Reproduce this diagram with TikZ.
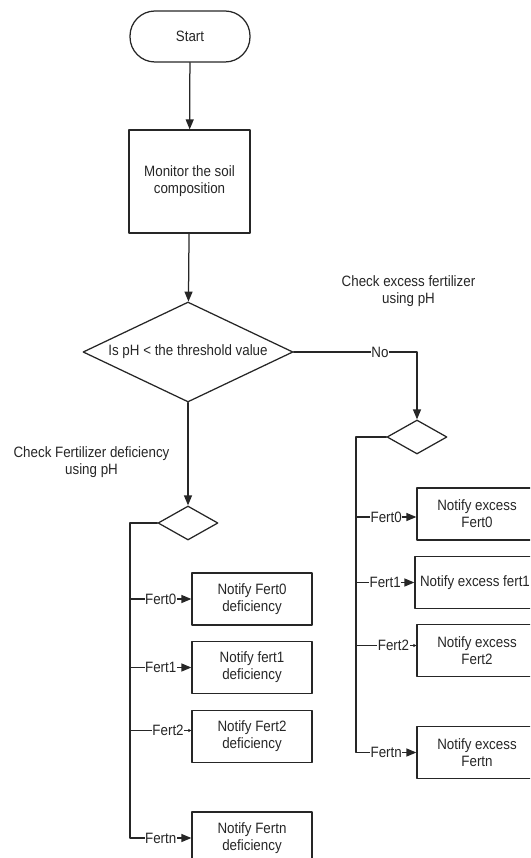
\documentclass[tikz,border=0pt]{standalone}
\usepackage{fontspec}
\setmainfont[FakeStretch=0.89]{Liberation Sans}
\usetikzlibrary{arrows.meta,shapes.geometric}

\begin{document}
\begin{tikzpicture}[line cap=round,line join=round,>={Triangle[length=10pt,width=8pt]},x=1pt,y=-1pt,
  line width=1.25pt, color=black!85, font=\fontsize{15}{17}\selectfont,
  term/.style={draw, rectangle, rounded corners=25pt, minimum width=120, minimum height=51},
  box/.style={draw, rectangle, minimum width=120, minimum height=52, align=center, inner sep=2pt},
  decision/.style={draw, diamond, aspect=2.1, minimum width=210, minimum height=100, inner sep=0pt},
  choice/.style={draw, diamond, minimum width=60, minimum height=34, inner sep=0pt},
  note/.style={align=center, inner sep=0pt},
  lbl/.style={fill=white, inner sep=0.5pt},
  tinytip/.style={-{Triangle[length=3pt,width=3pt]}}]
\clip (0,0) rectangle (530,858);
% main line
\node[term] (start) at (190,36.5) {Start};
\node[box, minimum width=121, minimum height=103] (soil) at (189.5,181.5) {Monitor the soil\\composition};
\node[decision] (ph) at (188,352) {Is pH < the threshold value};
\node[choice] (dl) at (188,523) {};
\node[choice] (dr) at (417,437) {};
\node[note] (chkl) at (91.5,462) {Check Fertilizer deficiency\\using pH};
\node[note] (chkr) at (408.5,291) {Check excess fertilizer\\using pH};
% deficiency boxes
\node[box] (l0) at (252,599) {Notify Fert0\\deficiency};
\node[box] (l1) at (252,667.5) {Notify fert1\\deficiency};
\node[box] (l2) at (252,736.5) {Notify Fert2\\deficiency};
\node[box] (l3) at (252,838) {Notify Fertn\\deficiency};
% excess boxes
\node[box] (r0) at (477,514) {Notify excess\\Fert0};
\node[box] (r1) at (475,582.5) {Notify excess fert1};
\node[box] (r2) at (477,650.5) {Notify excess\\Fert2};
\node[box] (r3) at (477,752.5) {Notify excess\\Fertn};
\coordinate (busl) at (130,523);
\coordinate (busr) at (356,437);
% connectors
\draw[->] (start) -- (soil);
\draw[->] (soil) -- (ph);
\draw[->] (ph.south) -- (dl.north);
\draw[->] (ph.east) -| node[lbl,pos=0.35] {No} (dr.north);
\draw[->] (dl.west) -- (busl) |- node[lbl,pos=0.75] {Fertn} (l3.west);
\draw[->] (busl |- l0.west) -- node[lbl] {Fert0} (l0.west);
\draw[->] (busl |- l1.west) -- node[lbl] {Fert1} (l1.west);
\draw[tinytip] ([yshift=6pt]busl |- l2.west) -- node[lbl,pos=0.62] {Fert2} ([yshift=6pt]l2.west);
\draw[->] (dr.west) -- (busr) |- node[lbl,pos=0.75] {Fertn} (r3.west);
\draw[->] ([yshift=-3pt]busr |- r0.west) -- node[lbl] {Fert0} ([yshift=-3pt]r0.west);
\draw[->] (busr |- r1.west) -- node[lbl] {Fert1} (r1.west);
\draw[tinytip] ([yshift=5pt]busr |- r2.west) -- node[lbl,pos=0.62] {Fert2} ([yshift=5pt]r2.west);
\end{tikzpicture}
\end{document}
